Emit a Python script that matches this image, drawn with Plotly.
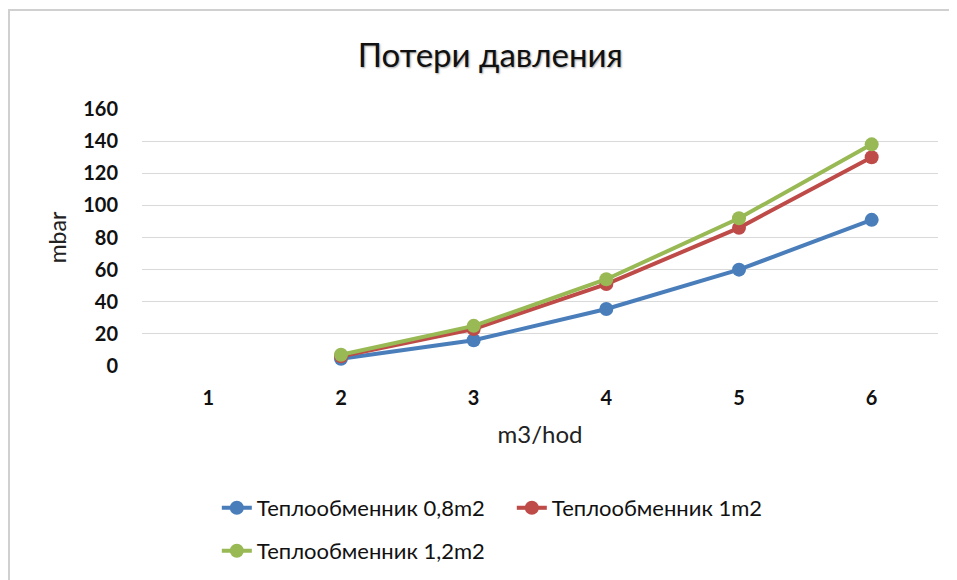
import plotly.graph_objects as go

categories = ["1", "2", "3", "4", "5", "6"]
series_names = ["Теплообменник 0,8m2", "Теплообменник 1m2", "Теплообменник 1,2m2"]
blue_vals = [None, 4.5, 16, 35.5, 60, 91]
red_vals = [None, 6, 23, 51, 86, 130]
green_vals = [None, 7, 25, 54, 92, 138]
colors = ["#4A7EBB", "#BE4B48", "#98B954"]
legend_ids = ["legend", "legend", "legend2"]
y_ticks = [0, 20, 40, 60, 80, 100, 120, 140, 160]

FONT = "Lato, Open Sans, sans-serif"

fig = go.Figure()
for name, vals, col, lg in zip(series_names, [blue_vals, red_vals, green_vals], colors, legend_ids):
    fig.add_trace(go.Scatter(
        x=categories, y=vals, name=name, mode="lines+markers",
        line=dict(color=col, width=4),
        marker=dict(color=col, size=14),
        legend=lg,
    ))

legend_common = dict(orientation="h", xanchor="left", yanchor="middle",
                     entrywidth=250, entrywidthmode="pixels",
                     font=dict(family=FONT, size=22, color="#111"))

fig.update_layout(
    width=957, height=580,
    margin=dict(l=134, r=27, t=101, b=222),
    paper_bgcolor="white", plot_bgcolor="white",
    title=dict(text="Потери давления", xref="container", x=0.504, xanchor="center",
               yref="container", y=0.919, yanchor="middle",
               font=dict(family=FONT, size=33, color="#111",
                         shadow="1px 1px 2px rgba(0,0,0,0.35)")),
    xaxis=dict(type="category", categoryorder="array", categoryarray=categories,
               range=[-0.5, 5.5], showgrid=False, showline=False, zeroline=False,
               ticks="", ticklabelstandoff=18,
               tickfont=dict(family=FONT, size=20, color="#111", weight="bold"),
               title=dict(text="m3/hod", font=dict(family=FONT, size=24, color="#222"), standoff=18)),
    yaxis=dict(range=[0, 160], tickvals=y_ticks, showgrid=True, gridcolor="#D9D9D9", gridwidth=1.2,
               zeroline=False, showline=False, ticks="", ticklabelstandoff=23,
               tickfont=dict(family=FONT, size=20, color="#111", weight="bold"),
               title=dict(text="mbar", font=dict(family=FONT, size=23, color="#222"), standoff=10)),
    legend=dict(x=0.094, y=(358 - 500) / 257, **legend_common),
    legend2=dict(x=0.094, y=(358 - 543) / 257, **legend_common),
    showlegend=True,
)

fig.add_shape(type="rect", xref="paper", yref="paper",
              x0=(1 - 134) / 796, x1=(990 - 134) / 796,
              y0=(358 - 620) / 257, y1=(358 - 2) / 257,
              line=dict(color="#D0D0D0", width=2), fillcolor="rgba(0,0,0,0)", layer="below")

fig.write_html("out.html")
